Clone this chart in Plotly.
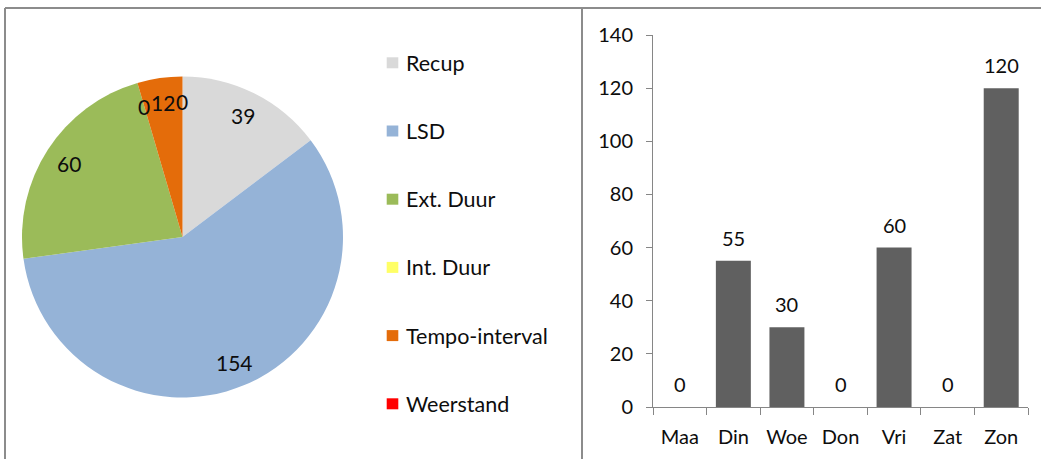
import math
import plotly.graph_objects as go

# ---- data ----
pie_labels = ["Recup", "LSD", "Ext. Duur", "Int. Duur", "Tempo-interval", "Weerstand"]
pie_values = [39, 154, 60, 0, 12, 0]
pie_colors = ["#D9D9D9", "#95B3D7", "#9BBB59", "#FFFF66", "#E46C0A", "#FF0000"]

days = ["Maa", "Din", "Woe", "Don", "Vri", "Zat", "Zon"]
minutes = [0, 55, 30, 0, 60, 0, 120]
y_ticks = [0, 20, 40, 60, 80, 100, 120, 140]

# ---- layout constants (pixels) ----
W, H = 1041, 459
FONT = "Lato"
TXT = "#0d0d0d"
AX = "#868686"

pcx, pcy, pr = 182.5, 237.0, 160.5   # pie centre / radius in px

def px(x):
    return x / W

def py(y):
    return 1 - y / H

fig = go.Figure()

fig.add_trace(go.Pie(
    labels=pie_labels, values=pie_values,
    marker=dict(colors=pie_colors, line=dict(width=0)),
    sort=False, direction="clockwise", rotation=0,
    textinfo="none", hoverinfo="label+value", showlegend=False,
    domain=dict(x=[px(pcx - pr), px(pcx + pr)], y=[py(pcy + pr), py(pcy - pr)]),
))

fig.add_trace(go.Bar(
    x=days, y=minutes, marker=dict(color="#606060", line=dict(width=0)),
    showlegend=False, hoverinfo="x+y",
))

annotations = []
# pie data labels at each slice's mid angle
total = sum(pie_values)
cum = 0
for lab, v in zip(pie_labels, pie_values):
    mid = (cum + v / 2) / total * 2 * math.pi
    cum += v
    rr = pr * 0.845
    x = pcx + rr * math.sin(mid)
    y = pcy - rr * math.cos(mid)
    annotations.append(dict(x=px(x), y=py(y), xref="paper", yref="paper",
                            text=str(v), showarrow=False, xanchor="center", yanchor="middle",
                            font=dict(family=FONT, size=21, color=TXT)))

# legend for the pie
shapes = []
leg_y0, leg_dy = 62.8, 68.2
for i, (lab, col) in enumerate(zip(pie_labels, pie_colors)):
    yc = leg_y0 + i * leg_dy
    shapes.append(dict(type="rect", xref="paper", yref="paper",
                       x0=px(386.7), x1=px(398.3), y0=py(yc + 5.5), y1=py(yc - 5.5),
                       fillcolor=col, line=dict(width=0)))
    annotations.append(dict(x=px(404), y=py(yc), xref="paper", yref="paper",
                            text=lab, showarrow=False, xanchor="left", yanchor="middle",
                            font=dict(family=FONT, size=21.5, color=TXT)))

# bar data labels
for d, v in zip(days, minutes):
    annotations.append(dict(x=d, y=v, xref="x", yref="y", text=str(v), showarrow=False,
                            xanchor="center", yanchor="middle", yshift=23,
                            font=dict(family=FONT, size=20, color=TXT)))

# frame lines
frame = dict(color="#8C8C8C", width=2)
shapes += [
    dict(type="line", xref="paper", yref="paper", x0=px(5), x1=1, y0=py(8), y1=py(8), line=frame),
    dict(type="line", xref="paper", yref="paper", x0=px(5), x1=px(5), y0=py(8), y1=0, line=frame),
    dict(type="line", xref="paper", yref="paper", x0=px(582), x1=px(582), y0=py(8), y1=0, line=frame),
]

fig.update_layout(
    template="none",
    width=W, height=H,
    margin=dict(l=0, r=0, t=0, b=0, pad=0),
    paper_bgcolor="white", plot_bgcolor="white",
    font=dict(family=FONT, size=20, color=TXT),
    bargap=0.347,
    annotations=annotations, shapes=shapes,
    xaxis=dict(domain=[px(653), px(1028)], type="category", automargin=False,
               showline=True, linecolor=AX, linewidth=1,
               ticks="outside", tickson="boundaries", ticklen=7, tickcolor=AX, tickwidth=1,
               showgrid=False, zeroline=False, ticklabelstandoff=12,
               tickfont=dict(family=FONT, size=20, color=TXT)),
    yaxis=dict(domain=[py(407), py(35)], range=[0, 140], tickvals=y_ticks, automargin=False,
               showline=True, linecolor=AX, linewidth=1,
               ticks="outside", ticklen=6, tickcolor=AX, tickwidth=1,
               showgrid=False, zeroline=False, ticklabelstandoff=9,
               tickfont=dict(family=FONT, size=20, color=TXT)),
)

fig.write_html(
    "out.html",
    config={"displayModeBar": False},
    post_script="document.body.style.margin='0px';document.body.style.overflow='hidden';",
)
